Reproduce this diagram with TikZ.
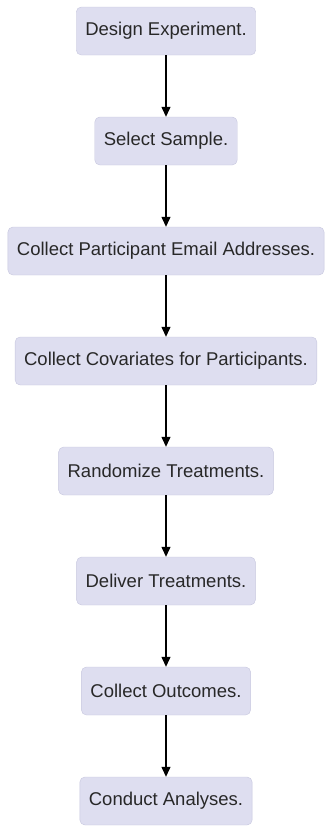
\documentclass[tikz,border=0pt]{standalone}
\usepackage{fontspec}
\setmainfont{Liberation Sans}
\usepackage{xcolor}
\usepackage{tikz}
\usetikzlibrary{arrows.meta}
\definecolor{stepfill}{RGB}{222,222,240}
\definecolor{stepline}{RGB}{198,198,222}
\definecolor{steptext}{RGB}{40,40,40}
\tikzset{stepbox/.style={draw=stepline,fill=stepfill,rounded corners=5pt,
           minimum height=48pt,inner xsep=9pt,text=steptext,
           font=\fontsize{18.5pt}{22pt}\selectfont},
         flow/.style={-{Triangle[width=9pt,length=10pt]},line width=1.2pt}}

\begin{document}
\begin{tikzpicture}[x=1pt,y=-1pt]
    \useasboundingbox (0,0) rectangle (327,831);
    \node[stepbox] (S1) at (166,31) {Design Experiment.}; \node[stepbox]
    (S2) at (166,141) {Select Sample.}; \node[stepbox] (S3) at (166,251)
    {Collect Participant Email Addresses.}; \node[stepbox] (S4) at
    (166,361) {Collect Covariates for Participants.};

    \node[stepbox] (S5) at (166,471) {Randomize Treatments.}; \node[stepbox]
    (S6) at (166,581) {Deliver Treatments.}; \node[stepbox] (S7) at
    (166,691) {Collect Outcomes.}; \node[stepbox] (S8) at (166,801)
    {Conduct Analyses.};

    \draw[flow] (S1) -- (S2); \draw[flow] (S2) -- (S3); \draw[flow] (S3) -- (S4);
    \draw[flow] (S4) -- (S5); \draw[flow] (S5) -- (S6); \draw[flow] (S6) --
    (S7); \draw[flow] (S7) -- (S8);


  \end{tikzpicture}
\end{document}
